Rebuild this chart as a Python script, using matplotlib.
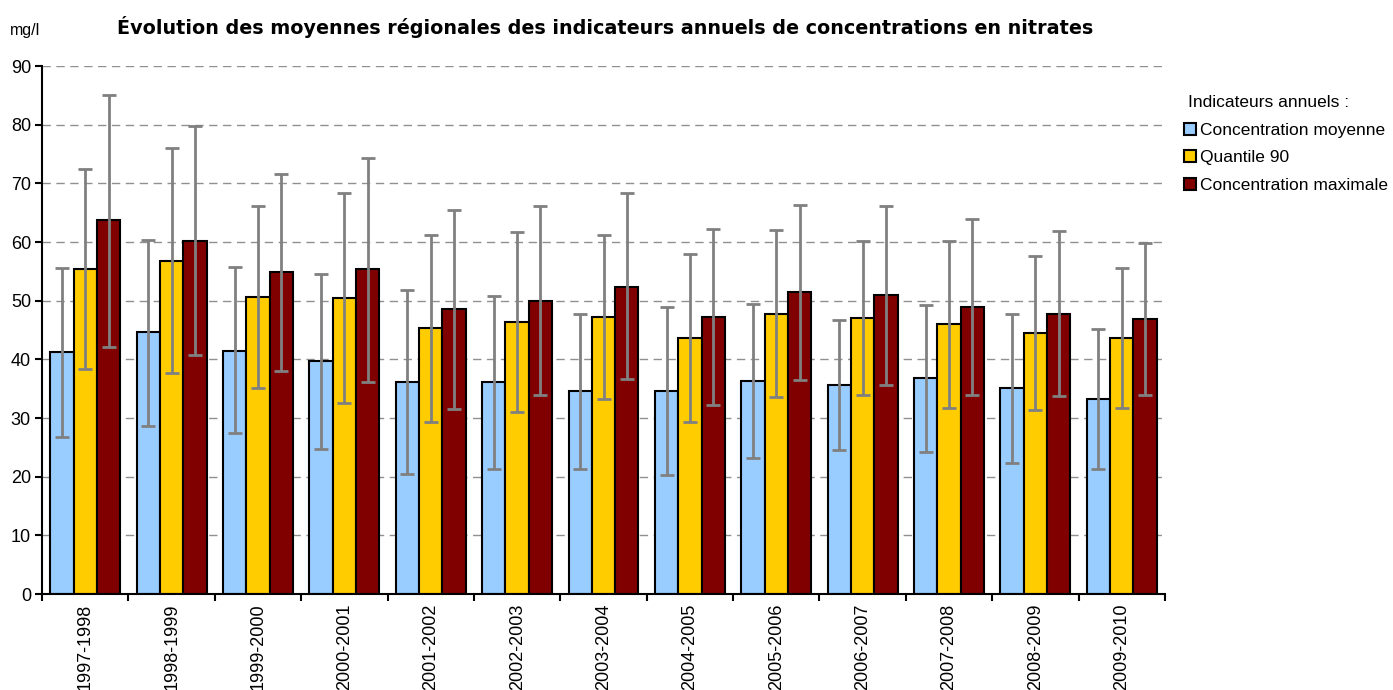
import numpy as np
import matplotlib
matplotlib.use("Agg")
import matplotlib.pyplot as plt
from matplotlib.patches import Patch

years = ["1997-1998", "1998-1999", "1999-2000", "2000-2001", "2001-2002", "2002-2003",
         "2003-2004", "2004-2005", "2005-2006", "2006-2007", "2007-2008", "2008-2009", "2009-2010"]

moy = [41.2, 44.6, 41.5, 39.8, 36.2, 36.1, 34.6, 34.6, 36.4, 35.7, 36.8, 35.1, 33.3]
moy_low = [26.7, 28.6, 27.4, 24.8, 20.5, 21.4, 21.4, 20.3, 23.2, 24.5, 24.2, 22.4, 21.3]
moy_high = [55.5, 60.4, 55.7, 54.6, 51.9, 50.8, 47.7, 49.0, 49.4, 46.8, 49.2, 47.7, 45.2]

q90 = [55.4, 56.8, 50.7, 50.5, 45.3, 46.4, 47.2, 43.6, 47.8, 47.1, 46.0, 44.5, 43.7]
q90_low = [38.4, 37.6, 35.1, 32.6, 29.4, 31.1, 33.2, 29.3, 33.6, 34.0, 31.8, 31.4, 31.7]
q90_high = [72.4, 76.0, 66.1, 68.4, 61.2, 61.7, 61.2, 57.9, 62.0, 60.2, 60.2, 57.6, 55.6]

vmax = [63.7, 60.2, 54.9, 55.4, 48.6, 50.0, 52.4, 47.3, 51.5, 51.0, 49.0, 47.8, 46.9]
vmax_low = [42.1, 40.7, 38.0, 36.2, 31.6, 33.9, 36.6, 32.3, 36.5, 35.7, 34.0, 33.8, 34.0]
vmax_high = [85.1, 79.7, 71.6, 74.4, 65.5, 66.1, 68.3, 62.2, 66.3, 66.1, 63.9, 61.8, 59.8]

series = [
    ("Concentration moyenne", moy, moy_low, moy_high, "#99CCFF"),
    ("Quantile 90", q90, q90_low, q90_high, "#FFCC00"),
    ("Concentration maximale", vmax, vmax_low, vmax_high, "#800000"),
]

plt.rcParams["font.family"] = ["Liberation Sans", "DejaVu Sans"]

fig = plt.figure(figsize=(13.93, 6.90), dpi=100)
ax = fig.add_axes([0.0302, 0.139, 0.8061, 0.7653])

x = np.arange(len(years))
w = 0.27
for i, (name, vals, lo, hi, col) in enumerate(series):
    pos = x + (i - 1) * w
    vals = np.array(vals)
    err = [vals - np.array(lo), np.array(hi) - vals]
    ax.bar(pos, vals, w, color=col, edgecolor="black", linewidth=1.5, zorder=2)
    ax.errorbar(pos, vals, yerr=err, fmt="none", ecolor="#808080", elinewidth=2,
                capsize=5, capthick=2, zorder=3)

ax.set_xlim(-0.5, len(years) - 0.5)
ax.set_ylim(0, 90)
ax.set_yticks(np.arange(0, 91, 10))
ax.yaxis.grid(True, linestyle=(0, (6, 4)), color="#909090", linewidth=1)
ax.set_axisbelow(True)

ax.set_xticks(x)
ax.set_xticklabels(years, rotation=90, fontsize=13)
ax.tick_params(axis="x", length=0, pad=7)
ax.set_xticks(np.arange(-0.5, len(years), 1), minor=True)
ax.tick_params(axis="x", which="minor", length=5, width=1.5, direction="out")
ax.tick_params(axis="y", labelsize=13, length=5, width=1.5, direction="out", pad=3)

for s in ["top", "right"]:
    ax.spines[s].set_visible(False)
ax.spines["left"].set_linewidth(1.5)
ax.spines["bottom"].set_linewidth(1.5)

fig.text(10 / 1393, 1 - 30 / 690, "mg/l", fontsize=11.5, va="center", ha="left")
fig.text(117 / 1393, 1 - 27 / 690, "Évolution des moyennes régionales des indicateurs annuels de concentrations en nitrates",
         fontsize=13.8, fontweight="bold", family="DejaVu Sans", va="center", ha="left")

handles = [Patch(facecolor=c, edgecolor="black", linewidth=1.5) for _, _, _, _, c in series]
leg = fig.legend(handles, [s[0] for s in series], title="Indicateurs annuels :",
                 loc="upper left", bbox_to_anchor=(1184 / 1393, 1 - 95 / 690),
                 frameon=False, fontsize=12.5, title_fontsize=12.5,
                 handlelength=0.7, handleheight=0.7, handletextpad=0.25,
                 labelspacing=0.72, borderaxespad=0, borderpad=0)
leg._legend_box.align = "left"
leg.get_title().set_position((4, 0))

fig.savefig("out.png", dpi=100)
